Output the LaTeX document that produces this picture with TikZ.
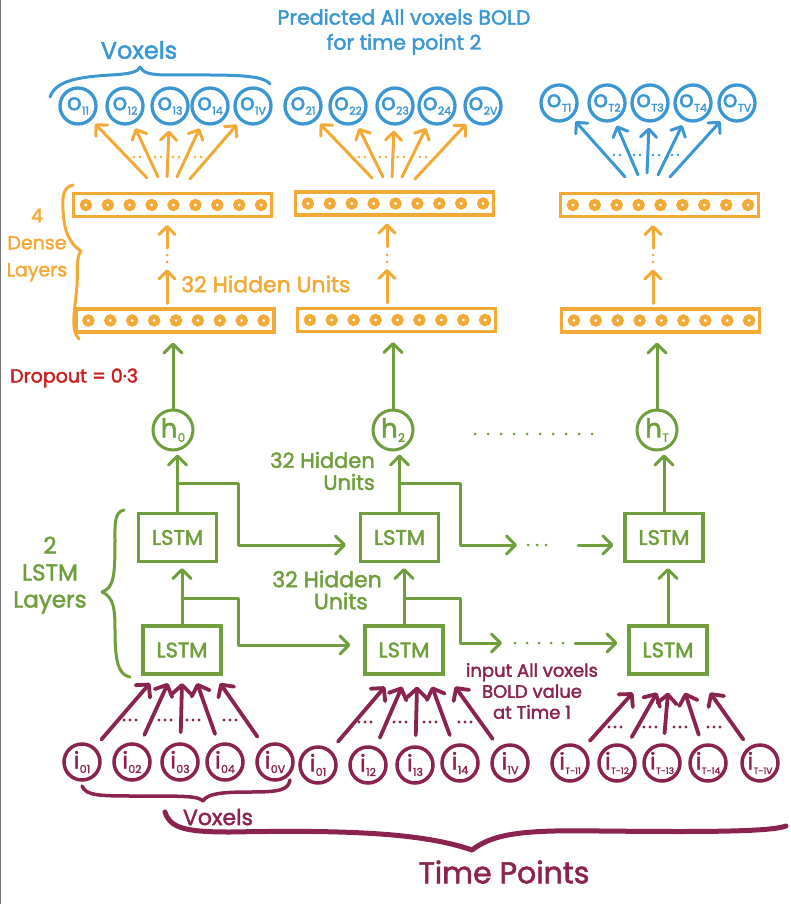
\documentclass[tikz,border=0pt]{standalone}
\usepackage{fontspec}
\setmainfont{Poppins}[FakeBold=2]
\usetikzlibrary{arrows.meta,calc}
\definecolor{cblue}{RGB}{59,151,211}
\definecolor{corange}{RGB}{243,169,53}
\definecolor{cgreen}{RGB}{112,158,60}
\definecolor{cmaroon}{RGB}{139,35,80}
\definecolor{cred}{RGB}{200,30,28}
\newcommand{\vlab}[3][11]{#2\kern0.3pt\raisebox{-4.5pt}{\fontsize{#1}{#1}\selectfont #3}}
\tikzset{
  ocirc/.style={circle, draw=cblue, line width=3.3pt, minimum size=36pt, inner sep=0pt, text=cblue, font=\fontsize{23}{23}\selectfont},
  icirc/.style={circle, draw=cmaroon, line width=3.5pt, minimum size=36pt, inner sep=0pt, text=cmaroon, font=\fontsize{23}{23}\selectfont},
  hcirc/.style={circle, draw=cgreen, line width=3pt, minimum size=40pt, inner sep=0pt, text=cgreen, font=\fontsize{26}{26}\selectfont},
  lstmbox/.style={draw=cgreen, line width=3.2pt, minimum width=78pt, minimum height=48pt, inner sep=0pt, text=cgreen, font=\fontsize{21}{21}\selectfont},
  densebox/.style={draw=corange, line width=3.2pt, minimum width=198pt, minimum height=23pt, inner sep=0pt},
  dunit/.style={draw=corange, line width=4.4pt},
  garr/.style={draw=cgreen, line width=3pt, line cap=round, line join=round, -{Straight Barb[length=9pt,width=18pt,round]}},
  oarr/.style={draw=corange, line width=3pt, line cap=round, -{Straight Barb[length=8pt,width=16pt,round]}},
  barr/.style={draw=cblue, line width=3pt, line cap=round, -{Straight Barb[length=8pt,width=16pt,round]}},
  marr/.style={draw=cmaroon, line width=3.8pt, line cap=round, -{Straight Barb[length=9pt,width=19pt,round]}},
  bracepath/.style={line width=3pt, line cap=round, line join=round},
}
\begin{document}
\begin{tikzpicture}[x=1pt,y=-1pt]
\useasboundingbox (0,0) rectangle (790,904);
\draw[line width=1.2pt, black!55] (0.6,0) -- (0.6,904);

% ---------- titles ----------
\node[text=cblue, font=\fontsize{20.5}{25}\selectfont, align=center] (title) at (404,32) {Predicted All voxels BOLD\\for time point 2};
\node[text=cblue, font=\fontsize{24}{24}\selectfont] (vox1) at (139,50) {Voxels};
\draw[cblue, bracepath] (50,97) .. controls (56,80) and (80,77) .. (110,75) .. controls (130,74) and (138,72) .. (140,67) .. controls (143,73) and (150,75) .. (170,75) .. controls (230,75) and (262,74) .. (270,84);

% ---------- output circles ----------
\node[ocirc] (o11) at (78,106) {\vlab{o}{11}};
\node[ocirc] (o12) at (125,106) {\vlab{o}{12}};
\node[ocirc] (o13) at (170,106) {\vlab{o}{13}};
\node[ocirc] (o14) at (210,106) {\vlab{o}{14}};
\node[ocirc] (o1V) at (253,106) {\vlab{o}{1V}};
\node[ocirc] (o21) at (303,106) {\vlab{o}{21}};
\node[ocirc] (o22) at (348,106) {\vlab{o}{22}};
\node[ocirc] (o23) at (395,106) {\vlab{o}{23}};
\node[ocirc] (o24) at (437,106) {\vlab{o}{24}};
\node[ocirc] (o2V) at (483,106) {\vlab{o}{2V}};
\node[ocirc] (oT1) at (559,103) {\vlab{o}{T1}};
\node[ocirc] (oT2) at (607,103) {\vlab{o}{T2}};
\node[ocirc] (oT3) at (650,103) {\vlab{o}{T3}};
\node[ocirc] (oT4) at (693,103) {\vlab{o}{T4}};
\node[ocirc] (oTV) at (737,103) {\vlab{o}{TV}};

% ---------- dense layers ----------
\node[densebox] (D1t) at (172.5,205) {};
\node[densebox] (D1b) at (175,320.5) {};
\node[densebox] (D2t) at (394.5,203.5) {};
\node[densebox] (D2b) at (396.5,320) {};
\node[densebox] (D3t) at (659.5,205) {};
\node[densebox] (D3b) at (660.5,320.5) {};
\foreach \b in {D1t,D1b,D2t,D2b,D3t,D3b}
  \foreach \k in {0,...,8}
    \draw[dunit] ($(\b.west)+(14+\k*21.9,0)$) circle (3.9pt);

% dense-to-dense arrows
\draw[oarr] ($(D1b.north)+(-8,-4)$) -- ++(0,-34);
\draw[oarr] ($(D1t.south)+(-5.5,30)$) -- ($(D1t.south)+(-5.5,7)$);
\draw[oarr] ($(D2b.north)+(-9.5,-4)$) -- ++(0,-34);
\draw[oarr] ($(D2t.south)+(-7.5,30)$) -- ($(D2t.south)+(-7.5,7)$);
\draw[oarr] ($(D3b.north)+(-7.5,-4)$) -- ++(0,-34);
\draw[oarr] ($(D3t.south)+(-6.5,30)$) -- ($(D3t.south)+(-6.5,7)$);
\foreach \x in {167,387,653} {\fill[corange] (\x,255) circle (1.5pt); \fill[corange] (\x,262) circle (1.5pt);}

% dense-to-output arrows
\coordinate (a11) at ($(D1t.north)+(-25.5,-14)$);
\coordinate (a12) at ($(D1t.north)+(-14.5,-15)$);
\coordinate (a13) at ($(D1t.north)+(-5.5,-15)$);
\coordinate (a14) at ($(D1t.north)+(4.5,-15)$);
\coordinate (a15) at ($(D1t.north)+(17.5,-13)$);
\coordinate (a21) at ($(D2t.north)+(-22.5,-12.4)$);
\coordinate (a22) at ($(D2t.north)+(-11.5,-13.4)$);
\coordinate (a23) at ($(D2t.north)+(-2.5,-13.4)$);
\coordinate (a24) at ($(D2t.north)+(7.5,-13.4)$);
\coordinate (a25) at ($(D2t.north)+(20.5,-11.4)$);
\coordinate (a31) at ($(D3t.north)+(-34.5,-15)$);
\coordinate (a32) at ($(D3t.north)+(-21.5,-17)$);
\coordinate (a33) at ($(D3t.north)+(-12.5,-19)$);
\coordinate (a34) at ($(D3t.north)+(-1.5,-17)$);
\coordinate (a35) at ($(D3t.north)+(10.5,-15)$);
\draw[oarr, shorten >=5pt] (a11) -- (o11);
\draw[oarr, shorten >=5pt] (a12) -- (o12);
\draw[oarr, shorten >=5pt] (a13) -- (o13);
\draw[oarr, shorten >=5pt] (a14) -- (o14);
\draw[oarr, shorten >=5pt] (a15) -- (o1V);
\draw[oarr, shorten >=5pt] (a21) -- (o21);
\draw[oarr, shorten >=5pt] (a22) -- (o22);
\draw[oarr, shorten >=5pt] (a23) -- (o23);
\draw[oarr, shorten >=5pt] (a24) -- (o24);
\draw[oarr, shorten >=5pt] (a25) -- (o2V);
\draw[barr, shorten >=5pt] (a31) -- (oT1);
\draw[barr, shorten >=5pt] (a32) -- (oT2);
\draw[barr, shorten >=5pt] (a33) -- (oT3);
\draw[barr, shorten >=5pt] (a34) -- (oT4);
\draw[barr, shorten >=5pt] (a35) -- (oTV);
\foreach \c in {137,158,176,198} {\fill[corange] (\c-3,157) circle (1.4pt); \fill[corange] (\c+3,157) circle (1.4pt);}
\foreach \c in {362,383,401,423} {\fill[corange] (\c-3,157) circle (1.4pt); \fill[corange] (\c+3,157) circle (1.4pt);}
\foreach \c in {617,637,656,675} {\fill[cblue] (\c-3,155) circle (1.4pt); \fill[cblue] (\c+3,155) circle (1.4pt);}

% dense labels
\node[text=corange, font=\fontsize{19}{27}\selectfont, align=center] (dl) at (37,245) {4\\Dense\\Layers};
\draw[corange, bracepath] (73,185) .. controls (64,187) and (62,195) .. (63,210) .. controls (64,232) and (70,244) .. (81,251) .. controls (76,258) and (78,268) .. (77,285) .. controls (75,310) and (70,330) .. (79,339);
\node[text=corange, font=\fontsize{22}{22}\selectfont, anchor=west, inner sep=0pt] (hu1) at (181,284) {32 Hidden Units};
\node[text=cred, font=\fontsize{19}{19}\selectfont, anchor=west, inner sep=0pt] (drop) at (10,378) {Dropout = 0·3};

% ---------- hidden states ----------
\node[hcirc] (h0) at (173,430) {\vlab[12]{h}{0}};
\node[hcirc] (h2) at (393,430) {\vlab[12]{h}{2}};
\node[hcirc] (hT) at (657,430) {\vlab[12]{h}{T}};
\foreach \x in {475,488,...,595} \fill[cgreen] (\x,434) circle (1.5pt);
\draw[garr, shorten >=9pt] (h0.north) -- (h0.north |- D1b.south);
\draw[garr, shorten >=9pt] (h2.north) -- (h2.north |- D2b.south);
\draw[garr, shorten >=9pt] (hT.north) -- (hT.north |- D3b.south);

% ---------- LSTM ----------
\node[lstmbox] (L1t) at (177.5,537.5) {LSTM};
\node[lstmbox] (L1b) at (182,650) {LSTM};
\node[lstmbox] (L2t) at (399.5,537.5) {LSTM};
\node[lstmbox] (L2b) at (404,650) {LSTM};
\node[lstmbox] (L3t) at (664,537.5) {LSTM};
\node[lstmbox] (L3b) at (668,650) {LSTM};

\draw[garr, shorten >=3pt] (L1t.north) -- (L1t.north |- h0.south);
\draw[garr, shorten >=3pt] (L2t.north) -- (L2t.north |- h2.south);
\draw[garr, shorten >=3pt] (L3t.north) -- (L3t.north |- hT.south);
\draw[garr, shorten >=5pt] (L1b.north) -- (L1b.north |- L1t.south);
\draw[garr, shorten >=5pt] (L2b.north) -- (L2b.north |- L2t.south);
\draw[garr, shorten >=5pt] (L3b.north) -- (L3b.north |- L3t.south);

\coordinate (t1a) at ($(L1t.north)+(0,-28)$);
\coordinate (t1b) at (238,545);
\draw[garr, shorten >=13pt] (t1a) -| (t1b) -- (t1b -| L2t.west);
\coordinate (b1a) at ($(L1b.north)+(0,-26)$);
\coordinate (b1b) at (238,645);
\draw[garr, shorten >=13pt] (b1a) -| (b1b) -- (b1b -| L2b.west);

\coordinate (t2a) at ($(L2t.north)+(0,-28)$);
\coordinate (t2b) at (460,545);
\coordinate (t2c) at (517,545);
\draw[garr] (t2a) -| (t2b) -- (t2c);
\foreach \x in {528,537,546} \fill[cgreen] (\x,545) circle (1.5pt);
\coordinate (t2d) at (578,545);
\draw[garr, shorten >=10pt] (t2d) -- (t2d -| L3t.west);
\coordinate (b2a) at ($(L2b.north)+(0,-26)$);
\coordinate (b2b) at (460,643);
\coordinate (b2c) at (502,643);
\draw[garr] (b2a) -| (b2b) -- (b2c);
\foreach \x in {515,527,539,551,563} \fill[cgreen] (\x,643) circle (1.5pt);
\coordinate (b2d) at (575,643);
\draw[garr, shorten >=10pt] (b2d) -- (b2d -| L3b.west);

\node[text=cgreen, font=\fontsize{21}{22}\selectfont, align=right, anchor=east, inner sep=0pt] (hu2) at (375,471) {32 Hidden\\Units};
\node[text=cgreen, font=\fontsize{22}{22}\selectfont, align=right, anchor=east, inner sep=0pt] (hu3) at (382,590) {32 Hidden\\Units\hspace*{14pt}};
\node[text=cgreen, font=\fontsize{23}{27}\selectfont, align=center] (ll) at (50,575) {2\\LSTM\\Layers};
\draw[cgreen, bracepath] (124,510) .. controls (114,512) and (115,525) .. (115,540) .. controls (115,575) and (114,588) .. (102,592) .. controls (114,597) and (115,610) .. (115,630) .. controls (115,660) and (118,675) .. (130,677);

% ---------- inputs ----------
\node[icirc] (i01) at (82,762) {\vlab{i}{01}};
\node[icirc] (i02) at (132,762) {\vlab{i}{02}};
\node[icirc] (i03) at (180,762) {\vlab{i}{03}};
\node[icirc] (i04) at (225,762) {\vlab{i}{04}};
\node[icirc] (i0V) at (275,762) {\vlab{i}{0V}};
\node[icirc] (i11) at (318,765) {\vlab{i}{01}};
\node[icirc] (i12) at (368,765) {\vlab{i}{12}};
\node[icirc] (i13) at (415,765) {\vlab{i}{13}};
\node[icirc] (i14) at (460,763) {\vlab{i}{14}};
\node[icirc] (i1V) at (510,763) {\vlab{i}{1V}};
\node[icirc] (iT1) at (570,763) {\vlab[9]{i}{T-11}};
\node[icirc] (iT2) at (617,763) {\vlab[9]{i}{T-12}};
\node[icirc] (iT3) at (662,763) {\vlab[9]{i}{T-13}};
\node[icirc] (iT4) at (708,763) {\vlab[9]{i}{T-14}};
\node[icirc] (iTV) at (760,763) {\vlab[9]{i}{T-1V}};

\draw[marr, shorten <=10pt] (i01) -- ($(L1b.south)+(-32,7.5)$);
\draw[marr, shorten <=10pt] (i02) -- ($(L1b.south)+(-14,7.5)$);
\draw[marr, shorten <=10pt] (i03) -- ($(L1b.south)+(0,7.5)$);
\draw[marr, shorten <=10pt] (i04) -- ($(L1b.south)+(15,7.5)$);
\draw[marr, shorten <=11pt] (i0V) -- ($(L1b.south)+(38,7.5)$);
\draw[marr, shorten <=11pt] (i11) -- ($(L2b.south)+(-19,11)$);
\draw[marr, shorten <=10pt] (i12) -- ($(L2b.south)+(-2,11)$);
\draw[marr, shorten <=10pt] (i13) -- ($(L2b.south)+(13,11)$);
\draw[marr, shorten <=10pt] (i14) -- ($(L2b.south)+(28,11)$);
\draw[marr, shorten <=10pt] (i1V) -- ($(L2b.south)+(51,11)$);
\draw[marr, shorten <=10pt] (iT1) -- ($(L3b.south)+(-35,17)$);
\draw[marr, shorten <=10pt] (iT2) -- ($(L3b.south)+(-11,17)$);
\draw[marr, shorten <=10pt] (iT3) -- ($(L3b.south)+(0,17)$);
\draw[marr, shorten <=10pt] (iT4) -- ($(L3b.south)+(17,17)$);
\draw[marr, shorten <=9pt] (iTV) -- ($(L3b.south)+(42,17)$);
\foreach \c/\y in {130/720,165/720,193/720,230/720,365/722,400/722,430/722,465/722,615/727,650/727,680/727,714/727}
  \foreach \d in {-6,0,6} \fill[cmaroon] (\c+\d,\y) circle (1.6pt);

\node[text=cmaroon, font=\fontsize{18}{21}\selectfont, align=center] (inp) at (532,691) {input All voxels\\BOLD value\\at Time 1};

% ---------- bottom braces ----------
\draw[cmaroon, bracepath, line width=3.5pt] (82,786) .. controls (86,796) and (100,796) .. (140,796) .. controls (185,796) and (198,796) .. (203,801) .. controls (207,794) and (220,792) .. (250,792) .. controls (280,792) and (288,790) .. (290,780);
\node[text=cmaroon, font=\fontsize{22}{22}\selectfont] (vox2) at (218,817) {Voxels};
\draw[cmaroon, bracepath, line width=5pt] (165,812) .. controls (170,828) and (185,832) .. (230,832) .. controls (340,830) and (420,832) .. (472,850) .. controls (495,832) and (530,830) .. (600,831) .. controls (700,832) and (770,832) .. (786,826);
\node[text=cmaroon, font=\fontsize{30}{30}\selectfont] (tp) at (504,872) {Time Points};
\end{tikzpicture}
\end{document}
